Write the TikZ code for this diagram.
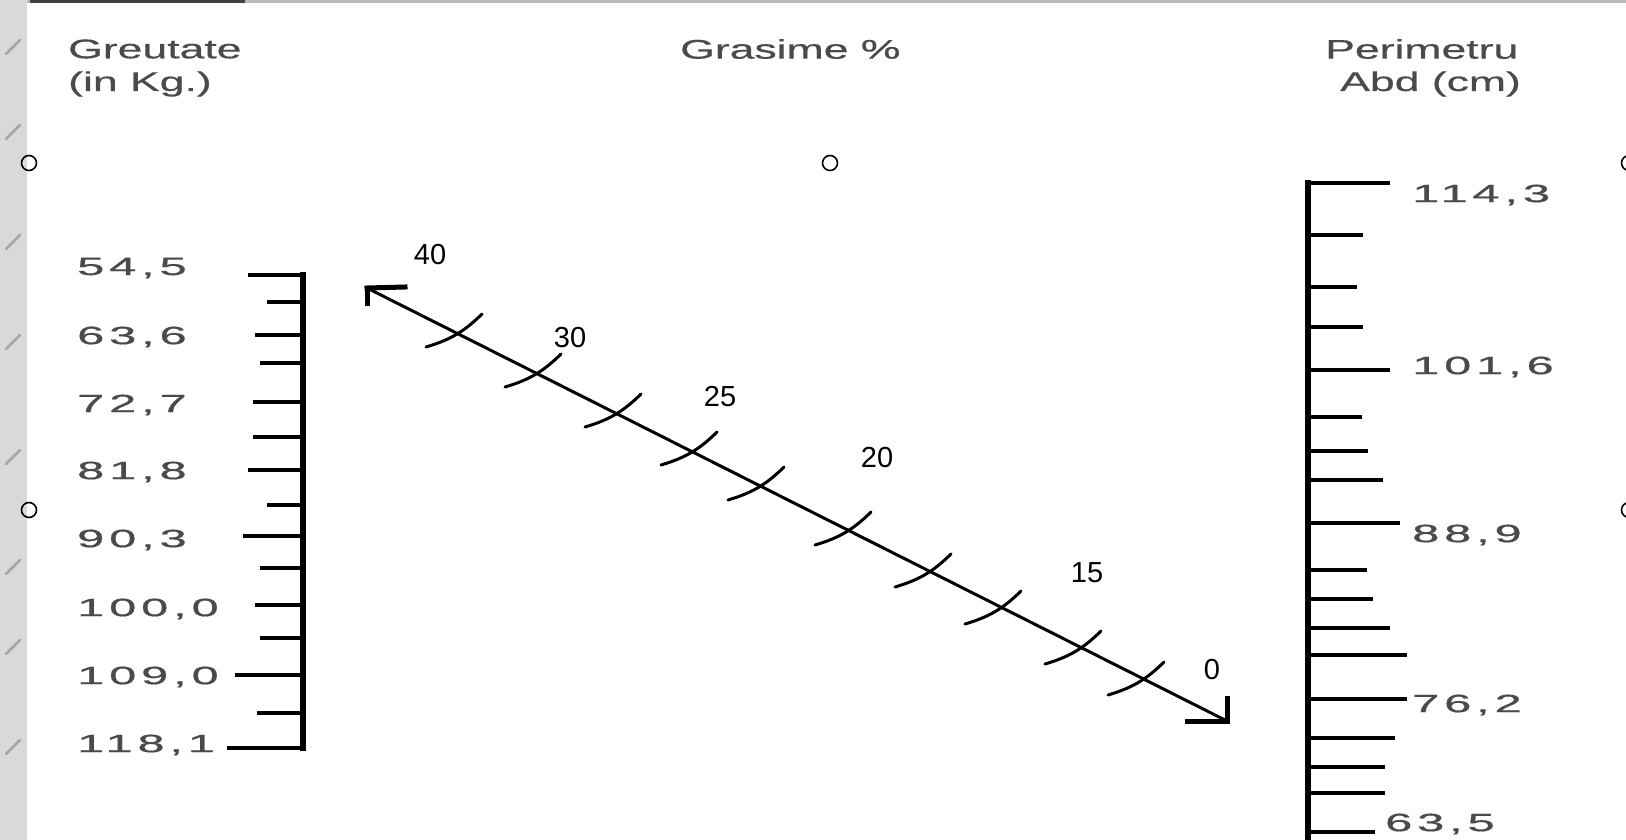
\documentclass[tikz,border=0pt]{standalone}
\usepackage{fontspec}
\setmainfont{Liberation Sans}
\newfontfamily\spacedfont[LetterSpace=10,FakeBold=0.6]{Liberation Sans}
\newfontfamily\headfont[FakeBold=0.4]{Liberation Sans}
\definecolor{labgray}{HTML}{4A4A4A}
\newcommand\wtxt[1]{\scalebox{1.65}[1]{#1}}
\newcommand\ntxt[1]{\scalebox{1.95}[1]{#1}}
\tikzset{
  head/.style={text=labgray, inner sep=0pt, anchor=west, font=\headfont\fontsize{27}{32}\selectfont},
  numlab/.style={text=labgray, inner sep=0pt, anchor=west, font=\spacedfont\fontsize{25}{29}\selectfont},
  diaglab/.style={text=black, inner sep=0pt, font=\fontsize{29}{34}\selectfont},
  bar/.style={line width=6.5pt, black},
  scaletick/.style={line width=3.2pt, black},
  axisline/.style={line width=3pt, black},
  barb/.style={line width=5pt, black, line cap=rect},
  xtick/.style={line width=3pt, black, line cap=round},
  ring/.style={circle, draw=black, line width=1.6pt, minimum size=15pt, inner sep=0pt},
}
\begin{document}
\begin{tikzpicture}[x=1pt,y=-1pt]
\useasboundingbox (0,0) rectangle (1626,840);
\clip (0,0) rectangle (1626,840);
\fill[white] (0,0) rectangle (1626,840);
% left textured strip and top band
\fill[gray!30] (0,0) rectangle (27,840);
\foreach \yy in {40,125,235,335,450,560,640,740}
  \draw[gray!70, line width=2.5pt, line cap=round] (6,\yy+14) -- (20,\yy);
\fill[gray!55] (27,0) rectangle (1626,3);
\fill[black!75] (30,0) rectangle (245,3);

% rings
\node[ring] (r1) at (29,163) {};
\node[ring] (r2) at (29,510) {};
\node[ring] (r3) at (830,163) {};
\node[ring] (r4) at (1629,163) {};
\node[ring] (r5) at (1629,510) {};

% headings
\node[head] (h1) at (68,49) {\wtxt{Greutate}};
\node[head] (h2) at (68,84) {\wtxt{(in Kg.)}};
\node[head] (h3) at (680,49) {\wtxt{Grasime \%}};
\node[head] (h4) at (1325,49) {\wtxt{Perimetru}};
\node[head] (h5) at (1340,84) {\wtxt{Abd (cm)}};

% left scale
\coordinate (LT) at (303,272);
\coordinate (LB) at (303,751);
\draw[bar] (LT) -- (LB);
\foreach \y/\x in {275/248, 302/267, 335/255, 363/260, 402/253, 437/253, 470/248, 505/267, 536/243, 568/260, 605/255, 638/260, 675/235, 713/257, 748/227}
  \draw[scaletick] (\x,\y) -- (303,\y);
\foreach \y/\t [count=\i] in {268/{54,5}, 337/{63,6}, 405/{72,7}, 472/{81,8}, 540/{90,3}, 609/{100,0}, 677/{109,0}, 745/{118,1}}
  \node[numlab] (L\i) at (77,\y) {\ntxt{\t}};

% right scale
\coordinate (RT) at (1308,180);
\coordinate (RB) at (1308,845);
\draw[bar] (RT) -- (RB);
\foreach \y/\x in {183/1390, 235/1363, 287/1357, 327/1363, 370/1390, 417/1362, 451/1368, 480/1383, 523/1400, 570/1367, 599/1373, 628/1390, 655/1407, 699/1407, 738/1395, 767/1385, 793/1385, 832/1375}
  \draw[scaletick] (1308,\y) -- (\x,\y);
\node[numlab] (R1) at (1412,195) {\ntxt{114,3}};
\node[numlab] (R2) at (1412,367) {\ntxt{101,6}};
\node[numlab] (R3) at (1412,535) {\ntxt{88,9}};
\node[numlab] (R4) at (1412,705) {\ntxt{76,2}};
\node[numlab] (R5) at (1385,824) {\ntxt{63,5}};

% diagonal axis
\coordinate (A) at (367,288);
\coordinate (B) at (1227,721);
\draw[axisline] (A) -- (B);
\draw[barb] (A) -- ++(38,-1);
\draw[barb] (A) -- ++(0,15);
\draw[barb] (B) -- ++(-40,0);
\draw[barb] (B) -- ++(0,-23);
\foreach \x/\y in {458/330, 537/370, 617/410, 693/448, 760/483, 847/528, 927/570, 997/607, 1077/647, 1140/678}
  \draw[xtick] (\x,\y) ++(-32,17) to[bend right=14] ++(56,-33);

\node[diaglab] (d40) at (430,255) {40};
\node[diaglab] (d30) at (570,338) {30};
\node[diaglab] (d25) at (720,397) {25};
\node[diaglab] (d20) at (877,458) {20};
\node[diaglab] (d15) at (1087,573) {15};
\node[diaglab] (d0) at (1212,670) {0};
\end{tikzpicture}
\end{document}
